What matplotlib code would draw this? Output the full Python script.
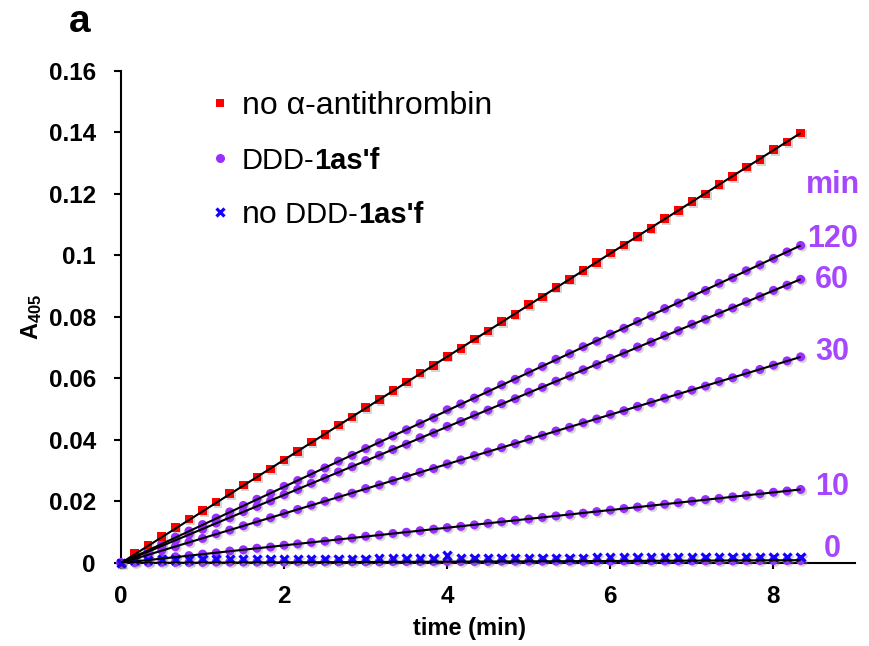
import numpy as np
import matplotlib
matplotlib.use("Agg")
import matplotlib.pyplot as plt
from matplotlib.lines import Line2D
from matplotlib.ticker import FormatStrFormatter
import matplotlib.patheffects as pe

plt.rcParams['font.family'] = ['Liberation Sans', 'DejaVu Sans']
plt.rcParams['mathtext.fontset'] = 'custom'
plt.rcParams['mathtext.rm'] = 'Liberation Sans'
plt.rcParams['mathtext.bf'] = 'Liberation Sans:bold'

# ---- data ----
time_s = [0, 10, 20, 30, 40, 50, 60, 70, 80, 90, 100, 110, 120, 130, 140, 150, 160, 170,
          180, 190, 200, 210, 220, 230, 240, 250, 260, 270, 280, 290, 300, 310, 320, 330,
          340, 350, 360, 370, 380, 390, 400, 410, 420, 430, 440, 450, 460, 470, 480, 490, 500]

no_antithrombin = [0.0000, 0.0030, 0.0058, 0.0087, 0.0115, 0.0143, 0.0170, 0.0198, 0.0226, 0.0253,
                   0.0280, 0.0306, 0.0335, 0.0362, 0.0393, 0.0418, 0.0449, 0.0474, 0.0505, 0.0531,
                   0.0560, 0.0588, 0.0617, 0.0641, 0.0672, 0.0697, 0.0728, 0.0754, 0.0784, 0.0808,
                   0.0840, 0.0865, 0.0896, 0.0922, 0.0951, 0.0977, 0.1007, 0.1033, 0.1062, 0.1088,
                   0.1119, 0.1145, 0.1174, 0.1199, 0.1231, 0.1256, 0.1287, 0.1311, 0.1343, 0.1368,
                   0.1398]

ddd_120 = [0.0000, 0.0021, 0.0043, 0.0063, 0.0084, 0.0104, 0.0125, 0.0146, 0.0166, 0.0187,
           0.0207, 0.0226, 0.0249, 0.0268, 0.0290, 0.0309, 0.0331, 0.0350, 0.0372, 0.0391,
           0.0413, 0.0433, 0.0453, 0.0472, 0.0498, 0.0517, 0.0536, 0.0557, 0.0579, 0.0597,
           0.0620, 0.0639, 0.0662, 0.0680, 0.0703, 0.0721, 0.0744, 0.0763, 0.0785, 0.0804,
           0.0827, 0.0845, 0.0868, 0.0886, 0.0909, 0.0927, 0.0950, 0.0969, 0.0990, 0.1011,
           0.1032]

ddd_60 = [0.0000, 0.0019, 0.0037, 0.0056, 0.0073, 0.0093, 0.0110, 0.0130, 0.0147, 0.0167,
          0.0184, 0.0202, 0.0222, 0.0239, 0.0259, 0.0276, 0.0296, 0.0313, 0.0333, 0.0350,
          0.0369, 0.0386, 0.0407, 0.0423, 0.0444, 0.0460, 0.0481, 0.0497, 0.0518, 0.0534,
          0.0555, 0.0571, 0.0591, 0.0608, 0.0628, 0.0645, 0.0665, 0.0682, 0.0702, 0.0718,
          0.0739, 0.0755, 0.0776, 0.0792, 0.0812, 0.0829, 0.0849, 0.0866, 0.0886, 0.0903,
          0.0922]

ddd_30 = [0.0000, 0.0014, 0.0027, 0.0041, 0.0053, 0.0068, 0.0080, 0.0095, 0.0107, 0.0121,
          0.0134, 0.0147, 0.0161, 0.0174, 0.0188, 0.0201, 0.0215, 0.0227, 0.0242, 0.0254,
          0.0268, 0.0281, 0.0295, 0.0307, 0.0322, 0.0335, 0.0349, 0.0361, 0.0375, 0.0388,
          0.0402, 0.0415, 0.0429, 0.0441, 0.0456, 0.0468, 0.0483, 0.0495, 0.0509, 0.0522,
          0.0536, 0.0548, 0.0562, 0.0575, 0.0590, 0.0602, 0.0617, 0.0629, 0.0643, 0.0657,
          0.0670]

ddd_10 = [0.0000, 0.0006, 0.0011, 0.0015, 0.0020, 0.0024, 0.0029, 0.0033, 0.0039, 0.0043,
          0.0048, 0.0052, 0.0058, 0.0062, 0.0067, 0.0071, 0.0076, 0.0081, 0.0087, 0.0091,
          0.0096, 0.0100, 0.0105, 0.0110, 0.0115, 0.0119, 0.0124, 0.0129, 0.0134, 0.0139,
          0.0143, 0.0148, 0.0153, 0.0158, 0.0162, 0.0167, 0.0172, 0.0177, 0.0182, 0.0186,
          0.0191, 0.0196, 0.0201, 0.0206, 0.0210, 0.0215, 0.0220, 0.0225, 0.0230, 0.0234,
          0.0239]

ddd_0 = [0.0000, 0.0001, 0.0001, 0.0002, 0.0002, 0.0002, 0.0002, 0.0003, 0.0003, 0.0003,
         0.0003, 0.0003, 0.0003, 0.0004, 0.0004, 0.0004, 0.0004, 0.0004, 0.0004, 0.0004,
         0.0005, 0.0005, 0.0005, 0.0005, 0.0005, 0.0005, 0.0005, 0.0005, 0.0006, 0.0006,
         0.0006, 0.0006, 0.0006, 0.0006, 0.0006, 0.0006, 0.0006, 0.0007, 0.0007, 0.0007,
         0.0007, 0.0007, 0.0007, 0.0007, 0.0007, 0.0007, 0.0008, 0.0008, 0.0008, 0.0008,
         0.0008]

no_ddd = [0.0000, 0.0010, 0.0010, 0.0011, 0.0011, 0.0011, 0.0012, 0.0012, 0.0012, 0.0012,
          0.0013, 0.0013, 0.0013, 0.0013, 0.0014, 0.0014, 0.0014, 0.0014, 0.0014, 0.0015,
          0.0015, 0.0015, 0.0015, 0.0015, 0.0024, 0.0016, 0.0016, 0.0016, 0.0016, 0.0017,
          0.0017, 0.0017, 0.0017, 0.0017, 0.0017, 0.0018, 0.0018, 0.0018, 0.0018, 0.0018,
          0.0018, 0.0018, 0.0018, 0.0019, 0.0019, 0.0019, 0.0019, 0.0019, 0.0019, 0.0019,
          0.0019]

ddd_series = [ddd_120, ddd_60, ddd_30, ddd_10, ddd_0]
ddd_labels = ["120", "60", "30", "10", "0"]
ddd_label_y = [0.1052, 0.0919, 0.0685, 0.0247, 0.0045]
unit_label = "min"
unit_label_y = 0.1228

# ---- styling ----
RED = "#FF0000"
PURPLE = "#9A2EFF"
PURPLE_TXT = "#A646FF"
BLUE = "#1400FF"

t = np.array(time_s) / 60.0

fig = plt.figure(figsize=(8.7, 6.46), dpi=100)
ax = fig.add_axes([121 / 870, 1 - 563 / 646, (855 - 121) / 870, (563 - 70.7) / 646])

shadow_fill = [pe.SimplePatchShadow(offset=(1.3, -1.3), shadow_rgbFace="#777777", alpha=0.3), pe.Normal()]
shadow_line = [pe.SimpleLineShadow(offset=(1.3, -1.3), shadow_color="#777777", alpha=0.3), pe.Normal()]


def fit_line(y):
    y = np.asarray(y)
    slope = np.sum(t * y) / np.sum(t * t)
    return slope * t


# DDD series (purple circles)
for ys in ddd_series:
    ax.plot(t, ys, linestyle="none", marker="o", ms=6.5, mfc=PURPLE, mec=PURPLE, mew=0,
            path_effects=shadow_fill, zorder=3, clip_on=False)

# no antithrombin (red squares)
ax.plot(t, no_antithrombin, linestyle="none", marker="s", ms=6.2, mfc=RED, mec=RED, mew=0,
        path_effects=shadow_fill, zorder=3, clip_on=False)

# no DDD (blue x)
ax.plot(t, no_ddd, linestyle="none", marker="x", ms=6.0, mec=BLUE, mew=2.3,
        path_effects=shadow_line, zorder=3.5, clip_on=False)

# fit lines
for ys in [no_antithrombin] + ddd_series:
    ax.plot(t, fit_line(ys), color="black", lw=1.5, zorder=4, solid_capstyle="butt")

# right-side labels
ax.text(8.73, unit_label_y, unit_label, color=PURPLE_TXT, fontsize=22, fontweight="bold",
        ha="center", va="center")
for lab, yv in zip(ddd_labels, ddd_label_y):
    ax.text(8.72, yv, lab, color=PURPLE_TXT, fontsize=22, fontweight="bold",
            ha="center", va="center")

# axes styling
ax.set_xlim(0, 9)
ax.set_ylim(0, 0.16)
ax.set_xticks([0, 2, 4, 6, 8])
ax.set_yticks(np.arange(0, 0.161, 0.02))
ax.yaxis.set_major_formatter(FormatStrFormatter("%g"))
ax.xaxis.set_major_formatter(FormatStrFormatter("%g"))
for s in ["top", "right"]:
    ax.spines[s].set_visible(False)
for s in ["left", "bottom"]:
    ax.spines[s].set_linewidth(1.5)
ax.tick_params(axis="y", direction="out", length=5, width=1.5, pad=13, labelsize=17.5)
ax.tick_params(axis="x", direction="out", length=4, width=1.5, pad=12, labelsize=17.5)
for lab in ax.get_xticklabels() + ax.get_yticklabels():
    lab.set_fontweight("bold")

ax.set_xlabel("time (min)", fontsize=17, fontweight="bold")
ax.xaxis.set_label_coords(0.475, -0.11)
ax.set_ylabel(r"$\mathbf{A_{405}}$", fontsize=17)
ax.yaxis.set_label_coords(-0.105, 0.5)

fig.text(80 / 870, 1 - 22 / 646, "a", fontsize=28, fontweight="bold", ha="center", va="center")

# legend
handles = [
    Line2D([], [], linestyle="none", marker="s", ms=6.2, mfc=RED, mec=RED, mew=0),
    Line2D([], [], linestyle="none", marker="o", ms=6.5, mfc=PURPLE, mec=PURPLE, mew=0),
    Line2D([], [], linestyle="none", marker="x", ms=6.0, mec=BLUE, mew=2.3),
]
LEG_FS = 23
SUB_FS = 21
leg = ax.legend(handles, ["no \u03b1-antithrombin", "DDD-", "no"], loc="upper left",
                bbox_to_anchor=(0.1185, 0.958), frameon=False, fontsize=LEG_FS,
                handlelength=0.75, handletextpad=0.3, labelspacing=0.79,
                borderpad=0, borderaxespad=0)
texts = leg.get_texts()
texts[1].set_fontsize(SUB_FS)
desc1 = 0.212 * SUB_FS
desc2 = 0.212 * LEG_FS
a1 = ax.annotate("1as'f", xy=(1, 0), xycoords=texts[1], xytext=(0, desc1),
                 textcoords="offset points", fontsize=SUB_FS, fontweight="bold",
                 va="baseline", ha="left", zorder=10)
a2 = ax.annotate(" DDD-", xy=(1, 0), xycoords=texts[2], xytext=(0, desc2),
                 textcoords="offset points", fontsize=SUB_FS,
                 va="baseline", ha="left", zorder=10)
a3 = ax.annotate("1as'f", xy=(1, 0), xycoords=a2, xytext=(0, desc1),
                 textcoords="offset points", fontsize=SUB_FS, fontweight="bold",
                 va="baseline", ha="left", zorder=10)

fig.savefig("out.png", dpi=100)
